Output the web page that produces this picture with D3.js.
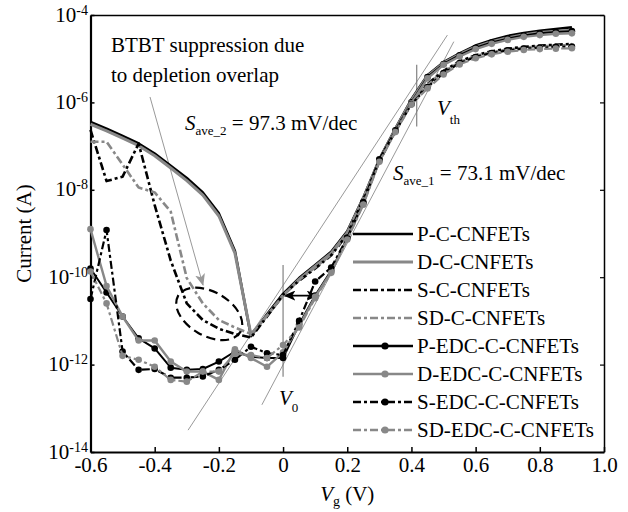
<!DOCTYPE html>
<html>
<head>
<meta charset="utf-8">
<script src="https://cdn.jsdelivr.net/npm/d3@7/dist/d3.min.js"></script>
<style>
body { margin: 0; background: #fff; }
svg { font-family: "Liberation Serif", "Times New Roman", serif; }
</style>
</head>
<body>
<div id="chart"></div>
<script>
// gate voltage (V)
var vg = [-0.6, -0.55, -0.5, -0.45, -0.4, -0.35, -0.3, -0.25, -0.2, -0.15, -0.1, -0.05,
          0, 0.05, 0.1, 0.15, 0.2, 0.25, 0.3, 0.35, 0.4, 0.45, 0.5, 0.55, 0.6, 0.65, 0.7, 0.75, 0.8, 0.85, 0.9];

// log10 of current (A)
var pC = [-6.45, -6.6, -6.77, -6.94, -7.17, -7.45, -7.73, -8.06, -8.54, -9.4, -11.35, -10.85,
          -10.38, -10.02, -9.72, -9.42, -8.95, -8.18, -7.3, -6.6, -5.93, -5.38, -5.08, -4.88, -4.7, -4.58, -4.48, -4.41, -4.36, -4.32, -4.28];
var dC = [-6.5, -6.65, -6.82, -6.99, -7.22, -7.5, -7.79, -8.12, -8.6, -9.45, -11.32, -10.88,
          -10.42, -10.05, -9.75, -9.45, -8.98, -8.2, -7.32, -6.62, -5.95, -5.4, -5.1, -4.9, -4.73, -4.61, -4.52, -4.45, -4.4, -4.37, -4.35];
var sC = [-6.63, -7.8, -7.7, -6.94, -8.35, -9.62, -10.6, -10.98, -11.18, -11.3, -11.38, -10.9,
          -10.4, -10.08, -9.8, -9.5, -9.02, -8.22, -7.35, -6.65, -6.0, -5.58, -5.28, -5.06, -4.92, -4.83, -4.77, -4.73, -4.7, -4.68, -4.66];
var sdC = [-6.9, -6.9, -7.42, -7.95, -8.06, -8.5, -10.02, -10.6, -10.98, -11.15, -11.3, -10.88,
           -10.42, -10.06, -9.78, -9.48, -9.0, -8.2, -7.33, -6.63, -5.98, -5.6, -5.3, -5.08, -4.94, -4.85, -4.79, -4.75, -4.72, -4.7, -4.69];
var pEDC = [-9.8, -10.35, -10.9, -11.4, -11.63, -12.07, -12.12, -12.1, -11.93, -11.7, -11.82, -11.85,
            -11.85, -11.08, -10.42, -9.85, -9.1, -8.3, -7.32, -6.64, -6.0, -5.42, -5.12, -4.92, -4.75, -4.63, -4.54, -4.47, -4.42, -4.39, -4.37];
var dEDC = [-8.9, -10.2, -10.9, -11.45, -11.45, -11.93, -12.16, -12.16, -12.35, -11.65, -11.85, -12.05,
            -11.72, -11.12, -10.45, -9.88, -9.12, -8.32, -7.34, -6.66, -6.02, -5.45, -5.14, -4.95, -4.78, -4.66, -4.57, -4.5, -4.46, -4.43, -4.42];
var sEDC = [-10.5, -8.92, -11.7, -12.12, -12.1, -12.3, -12.3, -12.27, -12.12, -11.89, -11.59, -11.74,
            -11.78, -11.0, -10.1, -9.78, -9.1, -8.28, -7.3, -6.66, -6.04, -5.65, -5.33, -5.1, -4.96, -4.87, -4.81, -4.77, -4.75, -4.73, -4.72];
var sdEDC = [-9.87, -10.6, -11.8, -11.89, -12.05, -12.35, -12.39, -12.16, -12.16, -11.75, -11.78, -11.85,
             -11.55, -11.15, -10.48, -9.9, -9.14, -8.34, -7.36, -6.68, -6.05, -5.68, -5.36, -5.13, -4.99, -4.9, -4.84, -4.8, -4.78, -4.77, -4.76];

var names = ["P-C-CNFETs", "D-C-CNFETs", "S-C-CNFETs", "SD-C-CNFETs",
             "P-EDC-C-CNFETs", "D-EDC-C-CNFETs", "S-EDC-C-CNFETs", "SD-EDC-C-CNFETs"];
var values = [pC, dC, sC, sdC, pEDC, dEDC, sEDC, sdEDC];

var xTicks = [-0.6, -0.4, -0.2, 0, 0.2, 0.4, 0.6, 0.8, 1.0];
var yTicks = [1e-14, 1e-12, 1e-10, 1e-8, 1e-6, 1e-4];

var black = "#000", gray = "#888";
var dashDot = "8,3,3,3";
var styles = [
    {color: black, width: 2.6, dash: null, marker: false},
    {color: gray, width: 3, dash: null, marker: false},
    {color: black, width: 2.6, dash: dashDot, marker: false},
    {color: gray, width: 2.6, dash: dashDot, marker: false},
    {color: black, width: 2, dash: null, marker: true},
    {color: gray, width: 2.4, dash: null, marker: true},
    {color: black, width: 2.2, dash: dashDot, marker: true},
    {color: gray, width: 2.2, dash: dashDot, marker: true}
];

var W = 628, H = 512;
var svg = d3.select("#chart").append("svg").attr("width", W).attr("height", H);

var pL = 90.5, pR = 604, pT = 15, pB = 452;
var x = d3.scaleLinear().domain([-0.6, 1.0]).range([pL, pR]);
var y = d3.scaleLog().domain([1e-14, 1e-4]).range([pB, pT]);
var Y = function (e) { return y(Math.pow(10, e)); };

var fontStack = '"Liberation Serif", "Times New Roman", serif';

// frame: top and right
svg.append("g")
        .attr("transform", "translate(0," + pT + ")")
        .call(d3.axisTop(x).tickValues([]).tickSizeOuter(0))
        .select(".domain").attr("stroke-width", 1.5);
svg.append("g")
        .attr("transform", "translate(" + pR + ",0)")
        .call(d3.axisRight(y).tickValues(yTicks).tickSize(-4).tickSizeOuter(0).tickFormat(function () { return ""; }))
        .call(function (a) {
            a.select(".domain").attr("stroke-width", 1.5);
            a.selectAll(".tick line").attr("stroke-width", 1.2);
        });

// x axis
var xAxis = svg.append("g")
        .attr("transform", "translate(0," + pB + ")")
        .call(d3.axisBottom(x).tickValues(xTicks).tickSize(-5).tickSizeOuter(0)
                .tickFormat(function (d) {
                    return d === 0 ? "0" : d.toFixed(1);
                }));
xAxis.attr("font-family", fontStack).attr("font-size", 21);
xAxis.select(".domain").attr("stroke-width", 2.2);
xAxis.selectAll(".tick line").attr("stroke-width", 1.5);
xAxis.selectAll(".tick text").attr("y", 5).attr("fill", "#000");

// y axis
var yAxis = svg.append("g")
        .attr("transform", "translate(" + pL + ",0)")
        .call(d3.axisLeft(y).tickValues(yTicks).tickSize(-4).tickSizeOuter(0)
                .tickFormat(function () { return ""; }));
yAxis.attr("font-family", fontStack).attr("font-size", 21);
yAxis.select(".domain").attr("stroke-width", 2.2);
yAxis.selectAll(".tick line").attr("stroke-width", 1.5);
yAxis.selectAll(".tick text").each(function (d) {
    var t = d3.select(this).attr("x", -2.5).attr("dy", null).attr("y", 6).attr("fill", "#000");
    t.append("tspan").text("10");
    t.append("tspan").attr("dy", -7).attr("font-size", 14).text(String(Math.round(Math.log10(d))));
});

// axis titles
svg.append("text")
        .attr("transform", "translate(31," + ((pT + pB) / 2) + ") rotate(-90)")
        .attr("text-anchor", "middle")
        .attr("font-size", 21)
        .text("Current (A)");
var xt = svg.append("text")
        .attr("x", (pL + pR) / 2)
        .attr("y", 501)
        .attr("text-anchor", "middle")
        .attr("font-size", 21);
xt.append("tspan").attr("font-style", "italic").text("V");
xt.append("tspan").attr("font-size", 14).attr("dy", 5).text("g");
xt.append("tspan").attr("dy", -5).text(" (V)");

// annotation lines
var thin = svg.append("g").attr("fill", "none");
function seg(v1, e1, v2, e2) {
    return thin.append("line")
            .attr("x1", x(v1)).attr("y1", Y(e1))
            .attr("x2", x(v2)).attr("y2", Y(e2));
}
seg(-0.296, -13.5, 0.512, -4.46).attr("stroke", "#999").attr("stroke-width", 1);
seg(-0.066, -12.92, 0.532, -4.61).attr("stroke", "#999").attr("stroke-width", 1);
seg(0.4165, -5.14, 0.4165, -6.55).attr("stroke", "#777").attr("stroke-width", 1.1);
seg(0, -9.72, 0, -12.28).attr("stroke", "#777").attr("stroke-width", 1.1);

// arrow markers
var defs = svg.append("defs");
defs.append("marker").attr("id", "arrGray")
        .attr("viewBox", "0 0 12 10").attr("refX", 11).attr("refY", 5)
        .attr("markerWidth", 12).attr("markerHeight", 10)
        .attr("markerUnits", "userSpaceOnUse").attr("orient", "auto")
        .append("path").attr("d", "M0,0 L12,5 L0,10 L3,5 z").attr("fill", "#999");
defs.append("marker").attr("id", "arrBlack")
        .attr("viewBox", "0 0 12 10").attr("refX", 11).attr("refY", 5)
        .attr("markerWidth", 12).attr("markerHeight", 10)
        .attr("markerUnits", "userSpaceOnUse").attr("orient", "auto-start-reverse")
        .append("path").attr("d", "M0,0 L12,5 L0,10 L3,5 z").attr("fill", "#000");

seg(-0.4146, -5.876, -0.2494, -10.18).attr("stroke", "#999").attr("stroke-width", 1)
        .attr("marker-end", "url(#arrGray)");

// dashed ellipse around BTBT region
svg.append("ellipse")
        .attr("transform", "translate(" + x(-0.23) + "," + Y(-10.84) + ") rotate(30)")
        .attr("rx", 36).attr("ry", 22)
        .attr("fill", "none").attr("stroke", "#000")
        .attr("stroke-width", 2.2).attr("stroke-dasharray", "9,5");

// curves
var line = d3.line()
        .x(function (d) { return x(d[0]); })
        .y(function (d) { return Y(d[1]); });

var curves = svg.append("g");
values.forEach(function (vals, i) {
    var st = styles[i];
    var pts = vg.map(function (v, k) { return [v, vals[k]]; });
    curves.append("path")
            .datum(pts)
            .attr("fill", "none")
            .attr("stroke", st.color)
            .attr("stroke-width", st.width)
            .attr("stroke-dasharray", st.dash)
            .attr("stroke-linejoin", "round")
            .attr("d", line);
    if (st.marker) {
        curves.append("g")
                .selectAll("circle")
                .data(pts)
                .enter()
                .append("circle")
                .attr("cx", function (d) { return x(d[0]); })
                .attr("cy", function (d) { return Y(d[1]); })
                .attr("r", 3.3)
                .attr("fill", st.color);
    }
});

// double arrow (threshold shift)
seg(0.004, -10.42, 0.108, -10.42).attr("stroke", "#000").attr("stroke-width", 1.8)
        .attr("marker-start", "url(#arrBlack)").attr("marker-end", "url(#arrBlack)");

// text annotations
var ann = svg.append("g").attr("font-size", 21).attr("fill", "#000");
ann.append("text").attr("x", 111).attr("y", 52).text("BTBT suppression due");
ann.append("text").attr("x", 111).attr("y", 82).text("to depletion overlap");

function subText(px, py, main, sub, rest, dy, subSize) {
    var t = ann.append("text").attr("x", px).attr("y", py);
    t.append("tspan").attr("font-style", "italic").text(main);
    t.append("tspan").attr("font-size", subSize).attr("dy", dy).text(sub);
    if (rest) t.append("tspan").attr("dy", -dy).text(rest);
    return t;
}
subText(185, 130, "S", "ave_2", " = 97.3 mV/dec", 5, 13);
subText(393, 180, "S", "ave_1", " = 73.1 mV/dec", 5, 13);
subText(437, 115, "V", "th", null, 9, 13);
subText(279, 405, "V", "0", null, 7, 13);

// legend
var legend = svg.append("g").attr("font-size", 21);
names.forEach(function (name, i) {
    var st = styles[i];
    var ly = 234 + i * 28;
    legend.append("line")
            .attr("x1", 353).attr("x2", 413).attr("y1", ly).attr("y2", ly)
            .attr("stroke", st.color)
            .attr("stroke-width", st.marker ? 2.6 : st.width)
            .attr("stroke-dasharray", st.dash);
    if (st.marker) {
        legend.append("circle").attr("cx", 385).attr("cy", ly).attr("r", 3.6).attr("fill", st.color);
    }
    legend.append("text").attr("x", 417).attr("y", ly + 7).text(name);
});
</script>
</body>
</html>
